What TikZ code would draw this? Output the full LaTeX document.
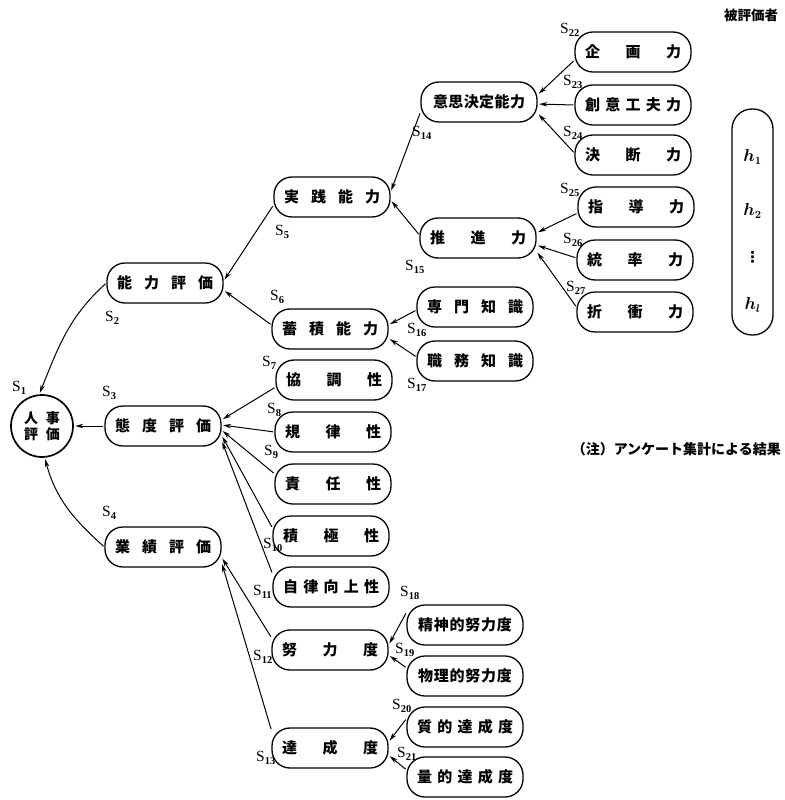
\documentclass[tikz,border=0pt]{standalone}
\usepackage{fontspec}
\setmainfont{Liberation Serif}
\newfontfamily\jp{Noto Sans CJK JP}
\newfontfamily\dejavu{DejaVu Sans}
\usetikzlibrary{arrows.meta}
\newcommand\spreadbox[1]{\hbox to 96pt{#1}}
\newcommand\slab[1]{S\raisebox{-3.5pt}{\fontsize{10.5}{10.5}\selectfont\bfseries #1}}
\begin{document}
\begin{tikzpicture}[x=1pt,y=-1pt,
 box/.style={draw, line width=1.3pt, rounded corners=18pt, minimum width=116pt, minimum height=40pt, inner sep=0pt, font=\jp\bfseries\fontsize{15}{15}\selectfont},
 lbl/.style={anchor=west, inner sep=0pt, font=\fontsize{15.5}{15.5}\selectfont},
 arr/.style={-{Stealth[length=8pt,width=4.5pt]}, line width=1pt, shorten >=1.5pt, shorten <=1pt},
 jtext/.style={inner sep=0pt, font=\jp\bfseries\fontsize{14}{14}\selectfont},
 htext/.style={inner sep=0pt, font=\boldmath\fontsize{16}{16}\selectfont}
 ]
\useasboundingbox (0,0) rectangle (784,800);

% root
\node[draw, circle, line width=1.7pt, minimum size=62pt, inner sep=0pt, align=center,
      font=\jp\bfseries\fontsize{14}{16}\selectfont] (jinji) at (42,426) {人\hspace{8pt}事\\評\hspace{8pt}価};

% level 1
\node[box] (noryoku) at (165,283) {\spreadbox{能\hfill 力\hfill 評\hfill 価}};
\node[box] (taido)   at (163,426) {\spreadbox{態\hfill 度\hfill 評\hfill 価}};
\node[box] (gyoseki) at (163,547) {\spreadbox{業\hfill 績\hfill 評\hfill 価}};

% level 2
\node[box] (jissen)    at (332,197) {\spreadbox{実\hfill 践\hfill 能\hfill 力}};
\node[box] (chikuseki) at (330,329) {\spreadbox{蓄\hfill 積\hfill 能\hfill 力}};
\node[box] (kyocho)    at (334,380) {\spreadbox{協\hfill 調\hfill 性}};
\node[box] (kiritsu)   at (333,432) {\spreadbox{規\hfill 律\hfill 性}};
\node[box] (sekinin)   at (333,484) {\spreadbox{責\hfill 任\hfill 性}};
\node[box] (sekkyoku)  at (331,536) {\spreadbox{積\hfill 極\hfill 性}};
\node[box] (jiritsu)   at (331,587) {\spreadbox{自\hfill 律\hfill 向\hfill 上\hfill 性}};
\node[box] (doryoku)   at (330,650) {\spreadbox{努\hfill 力\hfill 度}};
\node[box] (tassei)    at (330,748) {\spreadbox{達\hfill 成\hfill 度}};

% level 3
\node[box] (ishi)    at (479,102) {\hbox to 92pt{意\hfill 思\hfill 決\hfill 定\hfill 能\hfill 力}};
\node[box] (suishin) at (478,238) {\spreadbox{推\hfill 進\hfill 力}};
\node[box] (senmon)  at (475,307) {\spreadbox{専\hfill 門\hfill 知\hfill 識}};
\node[box] (shokumu) at (475,361) {\spreadbox{職\hfill 務\hfill 知\hfill 識}};
\node[box] (seishin) at (465,625) {\hbox to 94pt{精\hfill 神\hfill 的\hfill 努\hfill 力\hfill 度}};
\node[box] (butsuri) at (465,676) {\hbox to 94pt{物\hfill 理\hfill 的\hfill 努\hfill 力\hfill 度}};
\node[box] (shitsu)  at (465,727) {\spreadbox{質\hfill 的\hfill 達\hfill 成\hfill 度}};
\node[box] (ryo)     at (465,777) {\spreadbox{量\hfill 的\hfill 達\hfill 成\hfill 度}};

% level 4
\node[box] (kikaku)   at (633,52)  {\spreadbox{企\hfill 画\hfill 力}};
\node[box] (soi)      at (633,105) {\spreadbox{創\hfill 意\hfill 工\hfill 夫\hfill 力}};
\node[box] (ketsudan) at (633,155) {\spreadbox{決\hfill 断\hfill 力}};
\node[box] (shido)    at (636,207) {\spreadbox{指\hfill 導\hfill 力}};
\node[box] (toso)     at (635,260) {\spreadbox{統\hfill 率\hfill 力}};
\node[box] (sessho)   at (635,312) {\spreadbox{折\hfill 衝\hfill 力}};

% evaluated persons
\node[draw, line width=1.3pt, rounded corners=20pt, minimum width=41pt, minimum height=226pt] (hbox) at (752.5,222) {};
\node[htext] (h1) at (752.5,157) {$h_1$};
\node[htext] (h2) at (752.5,211) {$h_2$};
\node[inner sep=0pt, font=\dejavu\bfseries\fontsize{15}{15}\selectfont] (hd) at (752.5,257) {⋮};
\node[htext] (hl) at (752.5,305) {$h_l$};
\node[jtext, font=\jp\bfseries\fontsize{13.5}{14}\selectfont] (hyoka) at (751,15) {被評価者};
\node[jtext, anchor=east] (note) at (781,449) {（注）アンケート集計による結果};

% edges
\draw[arr] (noryoku.180) to[out=222,in=68] (jinji.95);
\draw[arr] (taido.180) -- (jinji.0);
\draw[arr] (gyoseki.180) to[out=138,in=-75] (jinji.-85);

\draw[arr] (jissen.188) -- (noryoku.2);
\draw[arr] (chikuseki.176) -- (noryoku.-7);

\draw[arr] (ishi.190) -- (jissen.5);
\draw[arr] (suishin.177) -- (jissen.-3);

\draw[arr] (kikaku.188) -- (ishi.7);
\draw[arr] (soi.180) -- (ishi.-2);
\draw[arr] (ketsudan.178) -- (ishi.-11);

\draw[arr] (shido.186) -- (suishin.5);
\draw[arr] (toso.178) -- (suishin.-7);
\draw[arr] (sessho.175) -- (suishin.-13);

\draw[arr] (senmon.183) -- (chikuseki.4);
\draw[arr] (shokumu.176) -- (chikuseki.-9);

\draw[arr] (kyocho.187) -- (taido.6);
\draw[arr] (kiritsu.180) -- (taido.1);
\draw[arr] (sekinin.170) -- (taido.-4);
\draw[arr] (sekkyoku.172) -- (taido.-9);
\draw[arr] (jiritsu.167) -- (taido.-14);

\draw[arr] (doryoku.168) -- (gyoseki.-10);
\draw[arr] (tassei.163) -- (gyoseki.-15);

\draw[arr] (seishin.168) -- (doryoku.5);
\draw[arr] (butsuri.172) -- (doryoku.-5);
\draw[arr] (shitsu.172) -- (tassei.6);
\draw[arr] (ryo.173) -- (tassei.-7);

% S labels
\node[lbl] (s1)  at (12,388)  {\slab{1}};
\node[lbl] (s2)  at (105,318) {\slab{2}};
\node[lbl] (s3)  at (102,393) {\slab{3}};
\node[lbl] (s4)  at (102,513) {\slab{4}};
\node[lbl] (s5)  at (275,232) {\slab{5}};
\node[lbl] (s6)  at (270,297) {\slab{6}};
\node[lbl] (s7)  at (262,363) {\slab{7}};
\node[lbl] (s8)  at (267,410) {\slab{8}};
\node[lbl] (s9)  at (264,452) {\slab{9}};
\node[lbl] (s10) at (263,545) {\slab{10}};
\node[lbl] (s11) at (253,592) {\slab{11}};
\node[lbl] (s12) at (253,657) {\slab{12}};
\node[lbl] (s13) at (256,758) {\slab{13}};
\node[lbl] (s14) at (412,133) {\slab{14}};
\node[lbl] (s15) at (405,267) {\slab{15}};
\node[lbl] (s16) at (407,330) {\slab{16}};
\node[lbl] (s17) at (407,385) {\slab{17}};
\node[lbl] (s18) at (400,593) {\slab{18}};
\node[lbl] (s19) at (395,650) {\slab{19}};
\node[lbl] (s20) at (392,706) {\slab{20}};
\node[lbl] (s21) at (397,754) {\slab{21}};
\node[lbl] (s22) at (560,30)  {\slab{22}};
\node[lbl] (s23) at (563,82)  {\slab{23}};
\node[lbl] (s24) at (563,133) {\slab{24}};
\node[lbl] (s25) at (560,190) {\slab{25}};
\node[lbl] (s26) at (563,240) {\slab{26}};
\node[lbl] (s27) at (566,288) {\slab{27}};
\end{tikzpicture}
\end{document}
